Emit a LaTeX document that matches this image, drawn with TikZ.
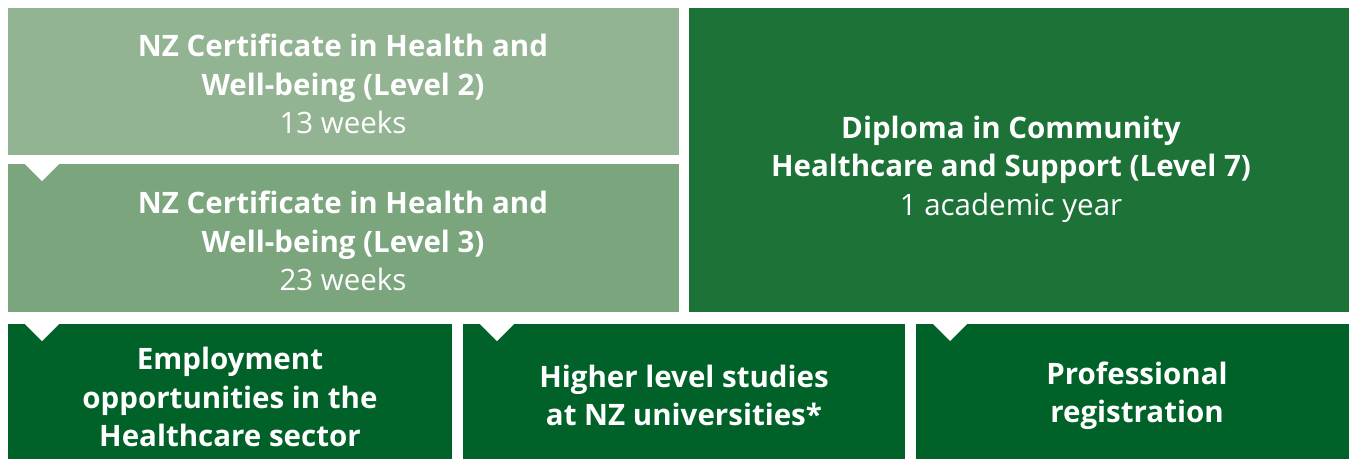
\documentclass[tikz,border=0pt]{standalone}
\usepackage{fontspec}
\setmainfont{Open Sans}
\usepackage{tikz}
\usetikzlibrary{calc}
\definecolor{lvltwo}{RGB}{147,180,146}
\definecolor{lvlthree}{RGB}{122,165,125}
\definecolor{dipgreen}{RGB}{28,114,55}
\definecolor{outgreen}{RGB}{0,98,40}

\begin{document}
\begin{tikzpicture}[
  x=1pt, y=-1pt,
  box/.style={anchor=north west, inner sep=0pt, outer sep=0pt},
  btxt/.style={text=white, align=center, font=\fontsize{29.5}{38.5}\selectfont\bfseries},
  notch/.style={fill=white}
]
\useasboundingbox (0,0) rectangle (1349,459);

% boxes
\node[box, fill=lvltwo, minimum width=671pt, minimum height=147pt] (L2) at (8,8) {};
\node[box, fill=lvlthree, minimum width=671pt, minimum height=148pt] (L3) at (8,164) {};
\node[box, fill=dipgreen, minimum width=660pt, minimum height=304pt] (L7) at (689,8) {};
\node[box, fill=outgreen, minimum width=444pt, minimum height=135pt] (Emp) at (8,324) {};
\node[box, fill=outgreen, minimum width=442pt, minimum height=135pt] (Uni) at (463,324) {};
\node[box, fill=outgreen, minimum width=433pt, minimum height=135pt] (Reg) at (916,324) {};

% notches
\foreach \b in {L3,Emp,Uni,Reg}
  \fill[notch] ($(\b.north west)+(17,0)$) -- ++(17,17) -- ++(17,-17) -- cycle;

% texts
\node[btxt] (L2t) at (343,84) {NZ Certificate in Health and\\Well-being (Level 2)\\\mdseries 13 weeks};
\node[btxt] (L3t) at (343,241) {NZ Certificate in Health and\\Well-being (Level 3)\\\mdseries 23 weeks};
\node[btxt] (L7t) at (1011,169) {Diploma in Community\\Healthcare and Support (Level 7)\\\mdseries 1 academic year};
\node[btxt] (Empt) at (230,397) {Employment\\opportunities in the\\Healthcare sector};
\node[btxt] (Unit) at (684,395.5) {Higher level studies\\at NZ universities*};
\node[btxt] (Regt) at (1137,395.5) {Professional\\registration};

\end{tikzpicture}
\end{document}
